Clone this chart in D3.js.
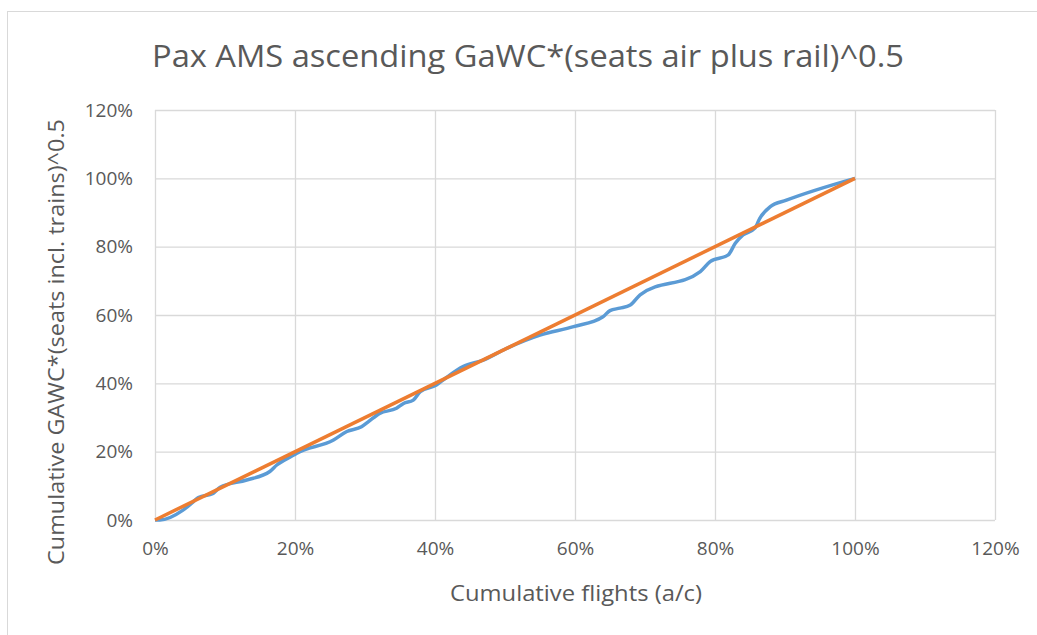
<!DOCTYPE html>
<html>
<head>
<meta charset="utf-8">
<script src="https://cdn.jsdelivr.net/npm/d3@7"></script>
<style>
  body { margin: 0; background: #fff; }
  text { font-family: "Open Sans", "Noto Sans", sans-serif; fill: #595959; }
</style>
</head>
<body>
<div id="chart"></div>
<script>
// Data (fractions)
var flights = [0, 0.007, 0.04, 0.055, 0.062, 0.083, 0.093, 0.131, 0.164, 0.174, 0.198,
  0.202, 0.255, 0.274, 0.295, 0.305, 0.321, 0.345, 0.355, 0.369, 0.379, 0.402,
  0.415, 0.44, 0.469, 0.502, 0.55, 0.598, 0.64, 0.65, 0.664, 0.679, 0.693,
  0.779, 0.793, 0.819, 0.829, 0.84, 0.857, 0.864, 0.879, 0.902, 1.0];
var gawc = [0, 0, 0.029, 0.054, 0.066, 0.078, 0.096, 0.117, 0.142, 0.161, 0.19,
  0.195, 0.234, 0.259, 0.273, 0.288, 0.312, 0.327, 0.341, 0.351, 0.376, 0.395,
  0.415, 0.449, 0.468, 0.502, 0.541, 0.566, 0.595, 0.613, 0.62, 0.629, 0.659,
  0.727, 0.756, 0.776, 0.81, 0.834, 0.854, 0.883, 0.917, 0.936, 1.0];
var diagX = [0, 1];
var diagY = [0, 1];
var tickVals = [0, 0.2, 0.4, 0.6, 0.8, 1.0, 1.2];

var svgWidth = 1037;
var svgHeight = 635;
var margin = { top: 110, right: 42, bottom: 115, left: 155 };
var width = 995 - margin.left;
var height = 520 - margin.top;

var svg = d3.select("#chart")
    .append("svg")
    .attr("width", svgWidth)
    .attr("height", svgHeight);

// chart border
svg.append("rect")
    .attr("x", 7.5).attr("y", 11.5)
    .attr("width", 1100).attr("height", 700)
    .attr("fill", "none")
    .attr("stroke", "#d9d9d9");

var chartGroup = svg.append("g").attr("transform", `translate(${margin.left}, ${margin.top})`);

var xScale = d3.scaleLinear().domain([0, 1.2]).range([0, width]);
var yScale = d3.scaleLinear().domain([0, 1.2]).range([height, 0]);

// gridlines
chartGroup.append("g")
    .call(d3.axisLeft(yScale).tickValues(tickVals).tickSize(-width).tickFormat(""))
    .call(g => g.select(".domain").remove())
    .selectAll("line").attr("stroke", "#d9d9d9").attr("stroke-width", 1.3);

chartGroup.append("g")
    .attr("transform", `translate(0, ${height})`)
    .call(d3.axisBottom(xScale).tickValues(tickVals).tickSize(-height).tickFormat(""))
    .call(g => g.select(".domain").remove())
    .selectAll("line").attr("stroke", "#d9d9d9").attr("stroke-width", 1.3);

// tick labels
var fmt = d3.format(".0%");
chartGroup.append("g")
    .attr("transform", `translate(0, ${height})`)
    .call(d3.axisBottom(xScale).tickValues(tickVals).tickSize(0).tickPadding(22).tickFormat(fmt))
    .call(g => g.select(".domain").remove())
    .selectAll("text")
    .style("font-size", "19px")
    .attr("fill", "#595959");

chartGroup.append("g")
    .call(d3.axisLeft(yScale).tickValues(tickVals).tickSize(0).tickPadding(22).tickFormat(fmt))
    .call(g => g.select(".domain").remove())
    .selectAll("text")
    .style("font-size", "19px")
    .attr("fill", "#595959");

// lines
var line = d3.line()
    .x((d, i) => xScale(d))
    .curve(d3.curveMonotoneX);

chartGroup.append("path")
    .datum(flights)
    .attr("fill", "none")
    .attr("stroke", "#5b9bd5")
    .attr("stroke-width", 3.5)
    .attr("stroke-linejoin", "round")
    .attr("d", line.y((d, i) => yScale(gawc[i])));

chartGroup.append("path")
    .datum(diagX)
    .attr("fill", "none")
    .attr("stroke", "#ed7d31")
    .attr("stroke-width", 3.5)
    .attr("d", d3.line().x(d => xScale(d)).y((d, i) => yScale(diagY[i])));

// title and axis titles
svg.append("text")
    .attr("x", 528).attr("y", 67)
    .attr("text-anchor", "middle")
    .attr("textLength", 752)
    .attr("lengthAdjust", "spacingAndGlyphs")
    .style("font-size", "31px")
    .text("Pax AMS ascending GaWC*(seats air plus rail)^0.5");

svg.append("text")
    .attr("x", 576).attr("y", 601)
    .attr("text-anchor", "middle")
    .attr("textLength", 252)
    .attr("lengthAdjust", "spacingAndGlyphs")
    .style("font-size", "21px")
    .text("Cumulative flights (a/c)");

svg.append("text")
    .attr("transform", "rotate(-90)")
    .attr("x", -342).attr("y", 64)
    .attr("text-anchor", "middle")
    .attr("textLength", 446)
    .attr("lengthAdjust", "spacingAndGlyphs")
    .style("font-size", "21px")
    .text("Cumulative GAWC*(seats incl. trains)^0.5");
</script>
</body>
</html>
